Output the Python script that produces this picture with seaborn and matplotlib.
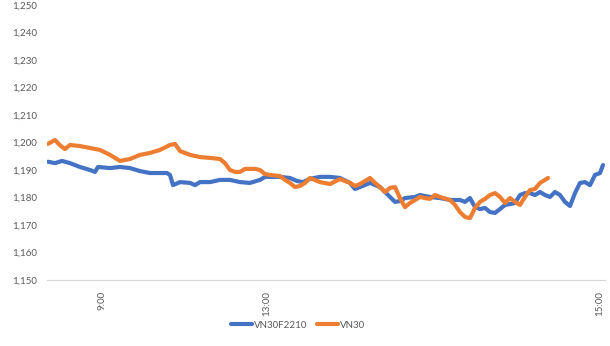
import matplotlib
matplotlib.use("Agg")
import matplotlib.pyplot as plt
import seaborn as sns
import pandas as pd
from matplotlib.lines import Line2D

# sample index (trading-time axis, category style)
vn30f_x = [1, 8, 15, 23, 33, 43, 48, 51, 63, 73, 83, 93, 103, 113, 120, 123, 126,
           133, 143, 148, 153, 163, 173, 183, 193, 203, 213, 218, 223, 233, 243,
           250, 256, 263, 273, 283, 293, 303, 308, 313, 323, 333, 338, 343, 348,
           353, 358, 368, 373, 383, 393, 403, 413, 418, 423, 428, 433, 438, 443,
           448, 453, 458, 463, 468, 473, 478, 483, 488, 493, 498, 503, 508, 513,
           518, 523, 528, 533, 538, 543, 548, 553, 556]
vn30f_y = [1193.0, 1192.5, 1193.3, 1192.5, 1191.1, 1190.0, 1189.3, 1191.1, 1190.7,
           1191.1, 1190.7, 1189.6, 1188.9, 1188.9, 1188.9, 1188.2, 1184.5, 1185.6,
           1185.3, 1184.5, 1185.6, 1185.6, 1186.4, 1186.4, 1185.6, 1185.3, 1186.4,
           1187.5, 1187.5, 1187.5, 1187.1, 1186.0, 1185.6, 1186.8, 1187.5, 1187.5,
           1187.1, 1185.3, 1183.1, 1183.8, 1185.3, 1183.8, 1182.0, 1180.2, 1178.4,
           1178.7, 1179.8, 1180.2, 1180.9, 1180.2, 1179.8, 1179.1, 1179.1, 1178.4,
           1179.8, 1176.5, 1175.8, 1176.2, 1174.7, 1174.4, 1175.8, 1177.3, 1177.6,
           1178.0, 1180.9, 1181.6, 1181.6, 1180.9, 1182.0, 1180.9, 1180.2, 1182.0,
           1180.9, 1178.4, 1176.9, 1181.6, 1185.3, 1185.6, 1184.5, 1188.2, 1188.9,
           1191.8]

vn30_x = [1, 8, 13, 18, 23, 33, 43, 53, 63, 73, 83, 93, 103, 113, 123, 128, 133,
          143, 153, 163, 173, 178, 183, 188, 193, 198, 208, 213, 218, 223, 233,
          238, 243, 248, 253, 258, 263, 273, 283, 293, 303, 308, 313, 323, 328,
          333, 338, 343, 348, 353, 358, 363, 368, 373, 378, 383, 388, 393, 403,
          408, 413, 418, 423, 428, 433, 438, 443, 448, 453, 458, 463, 468, 473,
          478, 483, 488, 493, 498, 501]
vn30_y = [1199.5, 1200.9, 1199.0, 1197.6, 1199.1, 1198.7, 1198.0, 1197.3, 1195.5,
          1193.3, 1194.0, 1195.5, 1196.2, 1197.3, 1199.1, 1199.5, 1196.9, 1195.5,
          1194.7, 1194.4, 1194.0, 1192.5, 1190.0, 1189.3, 1189.3, 1190.4, 1190.4,
          1190.0, 1188.5, 1188.2, 1187.8, 1186.4, 1185.3, 1183.8, 1184.2, 1185.3,
          1187.1, 1185.6, 1184.9, 1186.7, 1185.3, 1184.2, 1184.9, 1187.1, 1185.3,
          1183.8, 1182.0, 1183.5, 1183.8, 1179.8, 1176.5, 1178.0, 1179.1, 1180.2,
          1179.8, 1179.5, 1180.9, 1180.2, 1179.1, 1177.3, 1174.7, 1172.9, 1172.5,
          1176.2, 1178.4, 1179.5, 1180.9, 1181.6, 1180.2, 1178.0, 1179.8, 1178.4,
          1177.3, 1180.2, 1182.7, 1183.1, 1185.3, 1186.4, 1187.1]

series_names = ["VN30F2210", "VN30"]
tick_pos = [55, 220, 553]
tick_labels = ["9:00", "13:00", "15:00"]
y_ticks = [1150, 1160, 1170, 1180, 1190, 1200, 1210, 1220, 1230, 1240, 1250]

colors = {"VN30F2210": "#4472C4", "VN30": "#ED7D31"}

df = pd.concat([
    pd.DataFrame({"t": vn30f_x, "v": vn30f_y, "s": series_names[0]}),
    pd.DataFrame({"t": vn30_x, "v": vn30_y, "s": series_names[1]}),
])

sns.set_theme(style="white")
plt.rcParams["font.family"] = ["Lato", "DejaVu Sans"]

fig = plt.figure(figsize=(6.10, 3.46), dpi=100)
ax = fig.add_axes([47/610, 1 - 280/346, 558/610, 275/346])

sns.lineplot(data=df, x="t", y="v", hue="s", palette=colors, sort=False,
             linewidth=3.0, legend=False, ax=ax, estimator=None)

ax.set_xlim(0, 558)
ax.set_ylim(1150, 1250)
ax.set_yticks(y_ticks)
ax.set_yticklabels([f"{v:,}" for v in y_ticks], color="#595959", fontsize=7)
ax.set_xticks(tick_pos)
ax.set_xticklabels(tick_labels, rotation=90, color="#595959", fontsize=7,
                   va="top", ha="center")
ax.tick_params(axis="both", length=0)
ax.tick_params(axis="y", pad=7)
ax.tick_params(axis="x", pad=8)
ax.set_xlabel("")
ax.set_ylabel("")
for side in ["top", "right", "left"]:
    ax.spines[side].set_visible(False)
ax.spines["bottom"].set_color("#d9d9d9")
ax.spines["bottom"].set_linewidth(0.9)
ax.grid(False)

handles = [Line2D([0], [0], color=colors[n], lw=3) for n in series_names]
fig.legend(handles, series_names, loc="center", bbox_to_anchor=(298/610, 1 - 325/346),
           ncol=2, frameon=False, fontsize=7, handlelength=2.2, handletextpad=0.2,
           columnspacing=1.0, labelcolor="#595959")

fig.savefig("out.png", dpi=100)
